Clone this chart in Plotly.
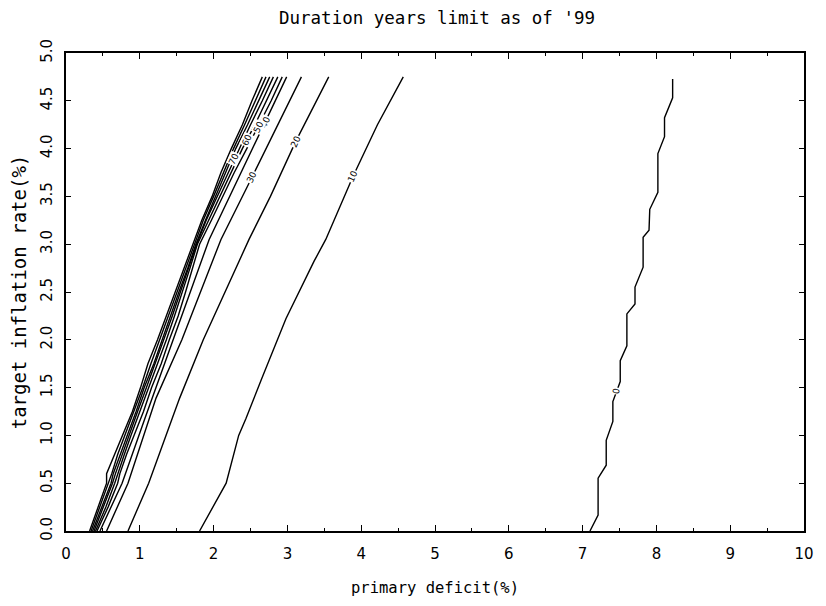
import numpy as np
import plotly.graph_objects as go

# ---- data (x = primary deficit %, y = target inflation %) ----
levels = ["0", "10", "20", "30", "40", "50", "60", "70", "80", "90", "100"]

line0_y = [0.0, 0.167, 0.552, 0.688, 0.948, 1.146, 1.354, 1.563, 1.781, 1.938, 2.271, 2.375,
           2.552, 2.760, 3.073, 3.146, 3.365, 3.542, 3.948, 4.125, 4.323, 4.531, 4.729]
line0_x = [7.10, 7.21, 7.21, 7.32, 7.32, 7.41, 7.41, 7.51, 7.51, 7.60, 7.60, 7.71,
           7.71, 7.82, 7.82, 7.90, 7.91, 8.02, 8.02, 8.11, 8.11, 8.22, 8.22]

line10_y = [0.0, 0.5, 1.0, 1.18, 1.59, 2.22, 2.82, 3.05, 3.71, 4.25, 4.75]
line10_x = [1.81, 2.17, 2.34, 2.44, 2.65, 2.98, 3.36, 3.52, 3.89, 4.22, 4.57]

line20_y = [0.0, 0.5, 1.18, 1.39, 2.0, 3.05, 3.5, 4.07, 4.75]
line20_x = [0.84, 1.12, 1.44, 1.54, 1.86, 2.48, 2.77, 3.11, 3.56]

line30_y = [0.0, 0.5, 1.18, 1.39, 2.0, 3.05, 3.70, 4.75]
line30_x = [0.55, 0.84, 1.13, 1.22, 1.57, 2.10, 2.52, 3.19]

line40_y = [0.0, 0.5, 1.18, 2.0, 3.05, 4.28, 4.75]
line40_x = [0.46, 0.76, 1.07, 1.45, 1.94, 2.70, 2.99]

cluster_y = [0.0, 0.25, 0.5, 0.6, 0.8, 1.0, 1.25, 1.5, 1.75, 2.0, 2.25, 2.5, 2.75, 3.0,
             3.25, 3.5, 3.75, 4.0, 4.25, 4.5, 4.75]
line50_x = [0.42, 0.57, 0.70, 0.73, 0.82, 0.92, 1.05, 1.16, 1.29, 1.40, 1.52, 1.62, 1.71, 1.81,
            1.97, 2.12, 2.28, 2.45, 2.62, 2.78, 2.93]
line60_x = [0.40, 0.54, 0.66, 0.70, 0.79, 0.88, 1.00, 1.12, 1.25, 1.36, 1.47, 1.58, 1.68, 1.78,
            1.93, 2.08, 2.23, 2.39, 2.56, 2.72, 2.87]
line70_x = [0.38, 0.51, 0.63, 0.67, 0.76, 0.85, 0.97, 1.09, 1.21, 1.32, 1.44, 1.55, 1.66, 1.77,
            1.90, 2.05, 2.19, 2.34, 2.50, 2.66, 2.81]
line80_x = [0.36, 0.49, 0.61, 0.64, 0.74, 0.83, 0.95, 1.06, 1.19, 1.30, 1.42, 1.53, 1.65, 1.76,
            1.89, 2.03, 2.16, 2.30, 2.46, 2.61, 2.76]
line90_x = [0.34, 0.46, 0.58, 0.62, 0.70, 0.80, 0.92, 1.04, 1.15, 1.27, 1.39, 1.50, 1.63, 1.74,
            1.86, 2.00, 2.13, 2.27, 2.42, 2.56, 2.71]
line100_x = [0.32, 0.44, 0.55, 0.55, 0.66, 0.77, 0.90, 1.01, 1.11, 1.24, 1.36, 1.48, 1.60, 1.72,
             1.84, 1.98, 2.10, 2.24, 2.39, 2.52, 2.66]

# label positions (y along each labelled contour)
label_text = ["0", "10", "20", "30", "40", "50", "60", "70"]
label_y = [1.46, 3.71, 4.07, 3.70, 4.28, 4.23, 4.09, 3.89]

x_ticks = list(range(0, 11))
y_ticks = [0.0, 0.5, 1.0, 1.5, 2.0, 2.5, 3.0, 3.5, 4.0, 4.5, 5.0]

title = "Duration years limit as of '99"
x_title = "primary deficit(%)"
y_title = "target inflation rate(%)"

# ---- figure ----
lines = [
    (line0_x, line0_y), (line10_x, line10_y), (line20_x, line20_y),
    (line30_x, line30_y), (line40_x, line40_y),
    (line50_x, cluster_y), (line60_x, cluster_y), (line70_x, cluster_y),
    (line80_x, cluster_y), (line90_x, cluster_y), (line100_x, cluster_y),
]

fig = go.Figure()
for (xs, ys), name in zip(lines, levels):
    fig.add_trace(go.Scatter(x=xs, y=ys, mode="lines", name=name,
                             line=dict(color="black", width=1.4), showlegend=False,
                             hoverinfo="skip"))

FONT = "DejaVu Sans"
MONO = "DejaVu Sans Mono"
for txt, ly in zip(label_text, label_y):
    idx = levels.index(txt)
    xs, ys = lines[idx]
    lx = float(np.interp(ly, ys, xs))
    fig.add_annotation(x=lx, y=ly, text=txt, showarrow=False, textangle=-65 if txt != "0" else -80,
                       font=dict(family=FONT, size=9, color="black"),
                       bgcolor="white", borderpad=0)

fig.update_layout(
    width=826, height=606,
    margin=dict(l=66, r=18, t=53, b=73),
    paper_bgcolor="white", plot_bgcolor="white",
    title=dict(text=title, x=(66 + 808) / 2 / 826, xanchor="center",
               y=1 - 18 / 606, yanchor="middle", yref="container",
               font=dict(family=MONO, size=17.5, color="black")),
    font=dict(family=FONT, color="black"),
)
fig.update_xaxes(range=[0, 10], tickvals=x_ticks, ticktext=[str(v) for v in x_ticks],
                 ticks="inside", ticklen=6, tickwidth=1.2, tickcolor="black",
                 minor=dict(dtick=0.5, ticks="inside", ticklen=3, tickcolor="black"),
                 showline=True, linecolor="black", linewidth=2, mirror="allticks",
                 showgrid=False, zeroline=False, ticklabelstandoff=8,
                 tickfont=dict(family=FONT, size=15),
                 title=dict(text=x_title, font=dict(family=MONO, size=15.5), standoff=20))
fig.update_yaxes(range=[0, 5], tickvals=y_ticks, ticktext=[f"{v:.1f}" for v in y_ticks],
                 ticks="inside", ticklen=5, tickwidth=1.2, tickcolor="black",
                 showline=True, linecolor="black", linewidth=2, mirror="allticks",
                 showgrid=False, zeroline=False, tickangle=-90, ticklabelstandoff=6,
                 tickfont=dict(family=FONT, size=15),
                 title=dict(text=y_title, font=dict(family=MONO, size=19), standoff=6))

fig.write_html("out.html")
